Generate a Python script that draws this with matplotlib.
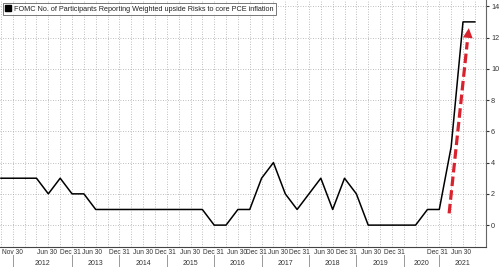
import numpy as np
import matplotlib.pyplot as plt
from matplotlib.lines import Line2D

plt.rcParams['font.family'] = ['Liberation Sans', 'DejaVu Sans']

############### data: one point per FOMC SEP meeting, Nov 2011 - Dec 2021 ###############
participants = [3, 3, 3, 3, 2, 3,   # Nov 2011, 2012
                2, 2, 1, 1,         # 2013
                1, 1, 1, 1,         # 2014
                1, 1, 1, 1,         # 2015
                0, 0, 1, 1,         # 2016
                3, 4, 2, 1,         # 2017
                2, 3, 1, 3,         # 2018
                2, 0, 0, 0,         # 2019
                0, 0, 1,            # 2020 (no March SEP)
                1, 5, 13, 13]       # 2021
obs = np.arange(len(participants))

# half-year labels (position in observation units, as placed on the chart)
tick_pos = [0.1, 3.92, 5.82, 7.72, 9.96, 11.98, 13.92, 15.95, 17.97, 19.92,
            21.55, 23.35, 25.15, 27.26, 29.17, 31.22, 33.25, 36.84, 38.8]
tick_lab = ['Nov 30', 'Jun 30', 'Dec 31', 'Jun 30', 'Dec 31', 'Jun 30', 'Dec 31',
            'Jun 30', 'Dec 31', 'Jun 30', 'Dec 31', 'Jun 30', 'Dec 31', 'Jun 30',
            'Dec 31', 'Jun 30', 'Dec 31', 'Dec 31', 'Jun 30']
years = ['2012', '2013', '2014', '2015', '2016', '2017', '2018', '2019', '2020', '2021']
year_first_obs = [1, 6, 10, 14, 18, 22, 26, 30, 34, 37]

title = 'FOMC No. of Participants Reporting Weighted upside Risks to core PCE inflation'
red = '#d8232f'
xmax = 40.9

############################## plot ##############################
fig = plt.figure(figsize=(5, 2.67), dpi=100)
ax = fig.add_axes([0.0, 20 / 267, 0.971, 247 / 267])

ax.plot(obs, participants, color='black', lw=1.1, zorder=3)

ax.set_xlim(-0.08, xmax)
ax.set_ylim(-1.4, 14.4)

# grid: dotted, one vertical per observation
ax.set_xticks(obs, minor=True)
ax.set_yticks(np.arange(0, 15, 2))
ax.grid(which='minor', axis='x', color='#a8a8a8', ls=(0, (1, 2)), lw=0.6)
ax.grid(which='major', axis='y', color='#a8a8a8', ls=(0, (1, 2)), lw=0.6)
ax.tick_params(axis='x', which='minor', length=0)

ax.set_xticks(tick_pos, tick_lab)
ax.tick_params(axis='x', which='major', length=0, pad=1.5, labelsize=4.8, colors='#333333')
ax.get_xticklabels()[0].set_horizontalalignment('left')
ax.yaxis.tick_right()
ax.tick_params(axis='y', length=2.5, width=0.8, pad=1.5, labelsize=5.2, colors='#333333')

for s in ['left', 'top']:
    ax.spines[s].set_visible(False)
ax.spines['right'].set_color('#666666')
ax.spines['bottom'].set_color('#444444')
ax.spines['right'].set_linewidth(0.8)
ax.spines['bottom'].set_linewidth(0.8)

# year row with separators
bounds = year_first_obs + [xmax]
for i, yr in enumerate(years):
    ax.plot([bounds[i], bounds[i]], [-0.033, -0.095], transform=ax.get_xaxis_transform(),
            color='#999999', lw=0.7, clip_on=False)
    ax.text((bounds[i] + bounds[i + 1]) / 2, -0.065, yr, transform=ax.get_xaxis_transform(),
            ha='center', va='center', fontsize=5.0, color='#333333')

# red dashed arrow
tail = (37.83, 0.75)
tip = (39.49, 12.6)
ax.plot([tail[0], 39.36], [tail[1], 11.7], color=red, lw=2.3, ls=(0, (3, 1.3)),
        solid_capstyle='butt', zorder=4)
ax.annotate('', xy=tip, xytext=(39.36, 11.6),
            arrowprops=dict(arrowstyle='-|>,head_length=0.7,head_width=0.35',
                            color=red, lw=0, shrinkA=0, shrinkB=0), zorder=4)

# legend box
handle = Line2D([], [], marker='s', color='black', ls='None', markersize=4.5)
leg = ax.legend([handle], [title], loc='upper left', bbox_to_anchor=(3 / 500, 1 - 3 / 267),
                bbox_transform=fig.transFigure, fontsize=5.2, frameon=True, fancybox=False,
                borderpad=0.35, handlelength=0.8, handletextpad=0.4, borderaxespad=0)
leg.get_frame().set_edgecolor('#555555')
leg.get_frame().set_linewidth(0.7)
for t in leg.get_texts():
    t.set_color('#222222')

plt.savefig('out.png', dpi=100)
